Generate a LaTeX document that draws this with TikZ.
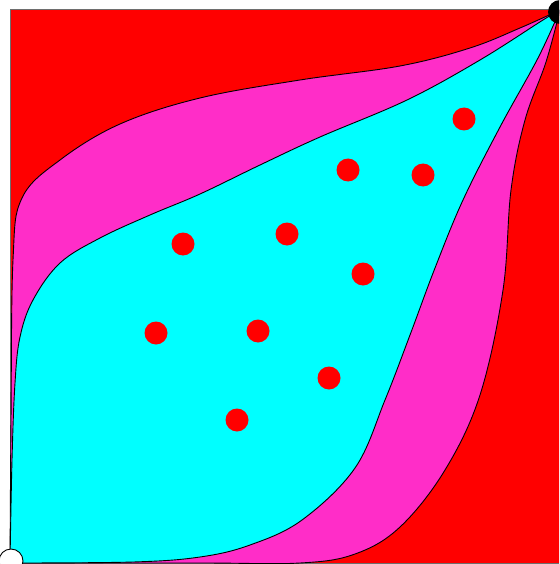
\documentclass[tikz,border=0pt]{standalone}
\usepackage{tikz}
\usepackage{xcolor}
\definecolor{bgred}{RGB}{255,0,0}
\definecolor{lensmag}{RGB}{255,45,200}
\definecolor{lenscyan}{RGB}{0,255,255}
\definecolor{edgegray}{RGB}{110,110,110}

\begin{document}
\begin{tikzpicture}[
    x=1pt, y=-1pt,
    border/.style={draw=edgegray, line width=1pt, fill=bgred},
    band/.style={draw=black, line width=0.9pt, fill=lensmag},
    core/.style={draw=black, line width=0.9pt, fill=lenscyan},
    spot/.style={fill=bgred},
    curve/.style={smooth, tension=0.6}
]
    \useasboundingbox (0,0) rectangle (559,564);
    \clip (0,0) rectangle (559,564);

    % Draw square
    \draw[border] (10,10) rectangle (560,563);

    % Draw outer lens
    \path[band] plot[curve] coordinates {(10,563) (11,420) (13,260) (22,198) (60,160) (120,124) (200,98) (300,80) (400,66) (470,48) (520,28) (560,10)}
        -- plot[curve] coordinates {(560,10) (546,62) (525,120) (511,190) (503,290) (480,395) (445,470) (400,527) (355,554) (300,563) (200,563) (10,563)} -- cycle;

    % Draw inner lens
    \path[core] plot[curve] coordinates {(10,563) (12,460) (15,383) (20,337) (33,300) (60,263) (100,238) (150,215) (200,194) (260,165) (320,137) (407,100) (480,60) (543,20) (560,10)}
        -- plot[curve] coordinates {(560,10) (538,58) (500,127) (463,200) (435,268) (410,335) (385,400) (355,468) (302,520) (250,545) (200,557) (133,562) (10,563)} -- cycle;

    % Draw spots
    \foreach \px/\py in {464/119, 348/170, 423/175, 183/244, 287/234, 363/274, 156/333, 258/331, 329/378, 237/420}
        \fill[spot] (\px,\py) circle (11.5);

    % Draw end points
    \fill[black] (560,12) circle (12);
    \draw[black, fill=white, line width=0.9pt] (11,561) circle (12);
\end{tikzpicture}
\end{document}
